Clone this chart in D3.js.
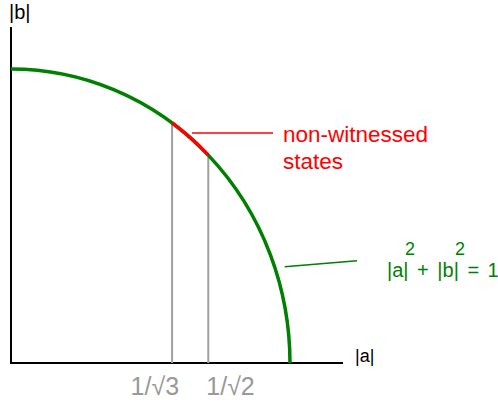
<!DOCTYPE html>
<html>
<head>
<meta charset="utf-8">
<script src="https://cdn.jsdelivr.net/npm/d3@7"></script>
<style>
  html, body { margin: 0; padding: 0; background: #fff; }
  svg { display: block; font-family: "Liberation Sans", Arial, sans-serif; }
</style>
</head>
<body>
<svg id="graphsvg" width="498" height="405"></svg>
<script>
// values on the unit quarter circle |a|^2 + |b|^2 = 1
var arcEnds = [[0, 1], [1, 0]];
var markerA = [1 / Math.sqrt(3), 1 / Math.sqrt(2)];
var markerB = [Math.sqrt(2 / 3), 1 / Math.sqrt(2)];
var tickLabels = ["1/\u221A3", "1/\u221A2"];
var axisLabels = ["|a|", "|b|"];
var noteLines = ["non-witnessed", "states"];
var eqText = "|a| + |b| = 1";
var noteB = [0.782, 0.327];

var svg = d3.select("#graphsvg"),
    margin = {top: 27, right: 155, bottom: 42, left: 11};

var x = d3.scaleLinear().domain([0, 1]).range([11, 290]);
var y = d3.scaleLinear().domain([0, 1]).range([363, 69]);

var rx = x(1) - x(0), ry = y(0) - y(1);

function aOf(b) { return Math.sqrt(1 - b * b); }

// axes
svg.append("line")
  .attr("x1", x(0)).attr("x2", x(0))
  .attr("y1", margin.top).attr("y2", y(0))
  .attr("stroke", "#000").attr("stroke-width", 2);
svg.append("line")
  .attr("x1", x(0) - 1).attr("x2", 343)
  .attr("y1", y(0)).attr("y2", y(0))
  .attr("stroke", "#000").attr("stroke-width", 2);

svg.append("text")
  .attr("x", 9).attr("y", 19)
  .attr("font-size", 20)
  .text(axisLabels[1]);
svg.append("text")
  .attr("x", 355).attr("y", 362)
  .attr("font-size", 18)
  .text(axisLabels[0]);

// grey drop lines
svg.selectAll(".drop")
  .data(markerA)
  .enter().append("line")
  .attr("class", "drop")
  .attr("x1", function(d) { return x(d); })
  .attr("x2", function(d) { return x(d); })
  .attr("y1", y(0))
  .attr("y2", function(d, i) { return y(markerB[i]); })
  .attr("stroke", "#a0a0a0").attr("stroke-width", 2);

// tick labels
svg.selectAll(".tlab")
  .data(markerA)
  .enter().append("text")
  .attr("class", "tlab")
  .attr("x", function(d, i) { return i == 0 ? x(d) + 7 : x(d) - 2; })
  .attr("y", 395)
  .attr("text-anchor", function(d, i) { return i == 0 ? "end" : "start"; })
  .attr("font-size", 25)
  .attr("fill", "#999")
  .text(function(d, i) { return tickLabels[i]; });

// the quarter circle
svg.append("path")
  .attr("d", "M" + x(arcEnds[0][0]) + "," + y(arcEnds[0][1]) +
             "A" + rx + "," + ry + " 0 0 1 " + x(arcEnds[1][0]) + "," + y(arcEnds[1][1]))
  .attr("fill", "none")
  .attr("stroke", "#008000")
  .attr("stroke-width", 3.5);

// red part between the markers
svg.append("path")
  .attr("d", "M" + x(markerA[0]) + "," + y(markerB[0]) +
             "A" + rx + "," + ry + " 0 0 1 " + x(markerA[1]) + "," + y(markerB[1]))
  .attr("fill", "none")
  .attr("stroke", "#ff0000")
  .attr("stroke-width", 3.5);

// red note
var ry1 = y(noteB[0]);
svg.append("line")
  .attr("x1", x(aOf(noteB[0])) + 7).attr("x2", 273)
  .attr("y1", ry1).attr("y2", ry1)
  .attr("stroke", "#ff0000").attr("stroke-width", 1.5);
svg.selectAll(".note")
  .data(noteLines)
  .enter().append("text")
  .attr("class", "note")
  .attr("x", 283)
  .attr("y", function(d, i) { return 142 + i * 27; })
  .attr("font-size", 22.5)
  .attr("fill", "#ff0000")
  .text(function(d) { return d; });

// green note
var gy = y(noteB[1]);
svg.append("line")
  .attr("x1", x(aOf(noteB[1])) + 10).attr("x2", 357)
  .attr("y1", gy).attr("y2", gy - 6)
  .attr("stroke", "#008000").attr("stroke-width", 1.5);
svg.append("text")
  .attr("x", 387).attr("y", 277)
  .attr("font-size", 20)
  .attr("fill", "#008000")
  .attr("word-spacing", 3)
  .text(eqText);
svg.selectAll(".sup")
  .data([405, 455])
  .enter().append("text")
  .attr("class", "sup")
  .attr("x", function(d) { return d; })
  .attr("y", 255)
  .attr("font-size", 18)
  .attr("fill", "#008000")
  .text("2");
</script>
</body>
</html>
